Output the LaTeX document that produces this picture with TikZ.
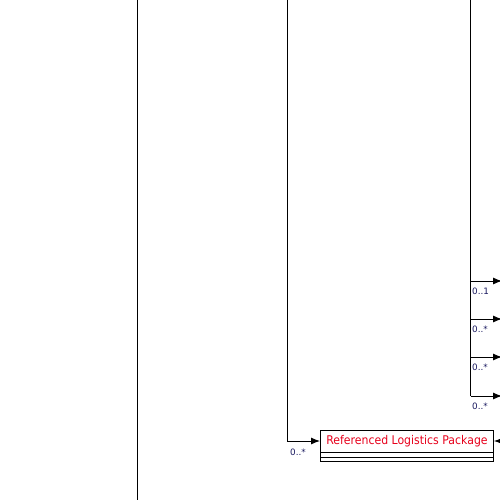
\documentclass[tikz,border=0pt]{standalone}
\usepackage{fontspec}
\setmainfont{DejaVu Sans}
\usetikzlibrary{arrows.meta}
\definecolor{labelc}{HTML}{1A1A60}
\definecolor{titlec}{HTML}{E8001C}
\tikzset{
  conn/.style={draw=black, line width=0.9pt},
  arr/.style={conn, -{Latex[length=9pt,width=7pt]}},
  mult/.style={font=\fontsize{8.8}{9}\selectfont, text=labelc, inner sep=0pt, anchor=north west},
  classbox/.style={draw=black, line width=0.9pt, fill=white, minimum width=173pt, minimum height=22pt, inner sep=0pt, text=titlec, font=\fontsize{12}{13}\selectfont},
}
\begin{document}
\begin{tikzpicture}[x=1pt,y=-1pt]
\useasboundingbox (0,0) rectangle (500,500);
\fill[white] (0,0) rectangle (500,500);
% class box
\node[classbox, anchor=north west] (pkg) at (320,430) {\scalebox{0.91}[1]{Referenced Logistics Package}};
\draw[conn] (pkg.south west) rectangle ([yshift=-4.5pt]pkg.south east);
\draw[conn] ([yshift=-4.5pt]pkg.south west) rectangle ([yshift=-9pt]pkg.south east);
% left vertical line
\coordinate (l0) at (137,0);
\coordinate (l1) at (137,500);
\draw[conn] (l0) -- (l1);
% middle line into package
\coordinate (m0) at (287,0);
\coordinate (m1) at (287,441);
\draw[arr] (m0) -- (m1) -- (pkg.west |- m1);
\node[mult] (mm) at (290,449) {0..*};
% right arrow into package
\coordinate (r0) at (510,441);
\draw[arr] (r0) -- (pkg.east |- r0);
% right trunk
\coordinate (t0) at (470.5,0);
\coordinate (t4) at (470.5,396);
\draw[conn] (t0) -- (t4);
\foreach \y/\lab [count=\i] in {281/0..1, 319/0..*, 357/0..*, 396/0..*} {
  \coordinate (b\i) at (470.5,\y);
  \coordinate (e\i) at (502,\y);
  \draw[arr] (b\i) -- (e\i);
  \node[mult] (lab\i) at (472,\y+6.5) {\lab};
}
\end{tikzpicture}
\end{document}
